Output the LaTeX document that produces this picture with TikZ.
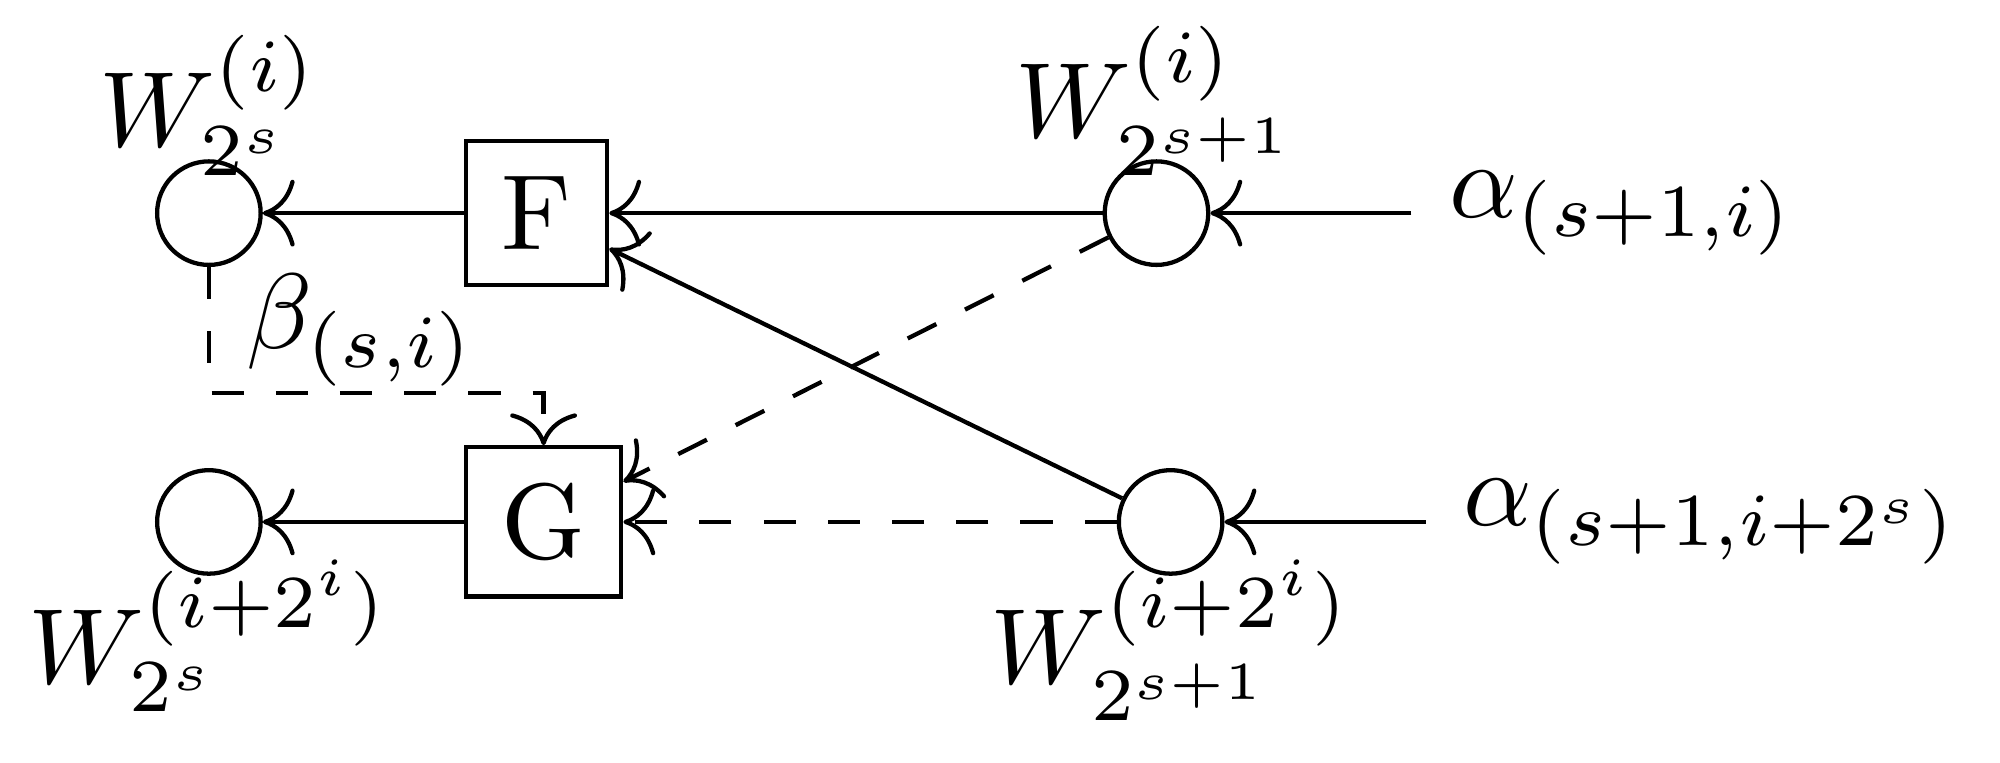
\documentclass[tikz,border=0pt]{standalone}
\usetikzlibrary{positioning,arrows.meta}

\begin{document}
\begin{tikzpicture}[
		>={To[scale=1.2]},
		node distance=0.66cm,
		wnode/.style={draw, circle, minimum size=0.34cm, inner sep=0pt},
		opbox/.style={draw, rectangle}
	]
	\useasboundingbox (-0.686,-1.803) rectangle (5.882,0.700);

	\node[wnode] (w1) at (0,0) {};
	\node[opbox, right=of w1] (F) {F};
	\node[wnode, right=1.62cm of F] (w3) {};
	\node[right=of w3] (a1) {$\alpha_{(s+1,i)}$};

	\node[wnode, below=of w1] (w2) {};
	\node[opbox, right=of w2] (G) {G};
	\node[wnode, right=1.62cm of G] (w4) {};
	\node[right=of w4] (a2) {$\alpha_{(s+1,i+2^s)}$};

	\node[above] (l1) at (w1.center) {$W^{(i)}_{2^s}$};
	\node[above] (l3) at (w3.center) {$W^{(i)}_{2^{s+1}}$};
	\node[below] (l2) at (w2.center) {$W^{(i+2^i)}_{2^s}$};
	\node[below] (l4) at (w4.center) {$W^{(i+2^i)}_{2^{s+1}}$};

	\draw[->] (F) -- (w1);
	\draw[->] (w3) -- (F);
	\draw[->] (a1) -- (w3);
	\draw[->] (G) -- (w2);
	\draw[->] (w4) -- (F);
	\draw[->, dashed] (w3) -- (G);
	\draw[->, dashed] (w4) -- (G);
	\draw[->] (a2) -- (w4);
	\draw[->, dashed] (w1) -- node[right] (beta) {$\beta_{(s,i)}$} ++(0,-0.59) -| (G);
\end{tikzpicture}
\end{document}
